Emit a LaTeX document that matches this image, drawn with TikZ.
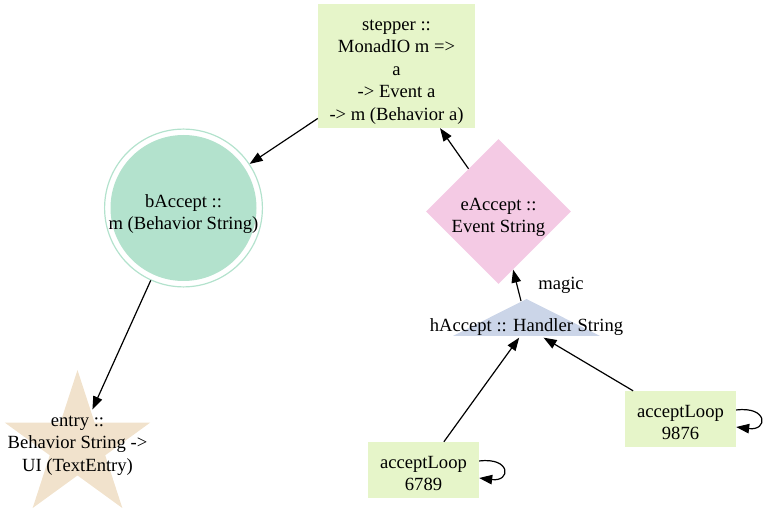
\documentclass[tikz,border=0pt]{standalone}
\usepackage{fontspec}
\setmainfont{Liberation Serif}
\usetikzlibrary{shapes.geometric,arrows.meta,calc}
\definecolor{pA}{HTML}{B3E2CD}
\definecolor{pC}{HTML}{CBD5E8}
\definecolor{pD}{HTML}{F4CAE4}
\definecolor{pE}{HTML}{E6F5C9}
\definecolor{pG}{HTML}{F1E2CC}
% raise the first line's box height so the block sits lower, as graphviz places text
\newcommand\dnline[2]{\raisebox{0pt}[\dimexpr\height+#1\relax]{#2}}
\tikzset{
  every node/.style={font=\fontsize{18.6}{22.6}\selectfont, align=center, inner sep=0pt},
  arr/.style={line width=1.2pt, -{Triangle[length=13pt,width=9.5pt]}},
  boxnode/.style={rectangle, fill=pE},
}
\begin{document}
\begin{tikzpicture}[x=1pt,y=-1pt]
\useasboundingbox (0,0) rectangle (764,513);
% shapes drawn directly
\fill[pA] (183.5,208) circle[radius=73pt];
\fill[pG] (77.5,370.0) -- (60.37,422.72) -- (4.93,422.72) -- (49.78,455.31) -- (32.65,508.03)
  -- (77.5,475.45) -- (122.35,508.03) -- (105.22,455.31) -- (150.07,422.72) -- (94.63,422.72) -- cycle;
\fill[pC] (453,336) -- (526.5,299) -- (600,336) -- cycle;
% nodes
\node[boxnode, minimum width=157pt, minimum height=124pt] (st) at (396.5,66)
  {\dnline{12pt}{stepper ::}\\MonadIO m =>\\a\\-> Event a\\-> m (Behavior a)};
\node[circle, minimum size=155pt, draw=pA, line width=1.2pt] (bA) at (183.5,208)
  {\dnline{12pt}{bAccept ::}\\m (Behavior String)};
\node[diamond, aspect=1, minimum size=145pt, fill=pD] (eA) at (498.5,211.5)
  {\dnline{12pt}{eAccept ::}\\Event String};
\node[inner sep=1.5pt] (hA) at (526.5,327.5) {hAccept :: Handler String};
\coordinate (hAtop) at (521,301);
\node[inner sep=0pt] (en) at (77.5,442.5) {\dnline{6pt}{entry ::}\\Behavior String ->\\UI (TextEntry)};
\node[boxnode, minimum width=111pt, minimum height=56pt] (l1) at (423.5,470) {\dnline{7pt}{acceptLoop}\\6789};
\node[boxnode, minimum width=111pt, minimum height=56pt] (l2) at (680.5,419) {\dnline{7pt}{acceptLoop}\\9876};
\node (mg) at (561,285) {magic};
% edges
\draw[arr] (st) -- (bA);
\draw[arr] (bA) -- (en);
\draw[arr] (eA) -- (st);
\draw[arr] (hAtop) -- (eA);
\draw[arr] (l1) -- (hA);
\draw[arr] (l2) -- (hA);
\draw[arr] ($(l1.east)+(0,-9)$) .. controls +(32,-4) and +(32,4) .. ($(l1.east)+(0,8)$);
\draw[arr] ($(l2.east)+(0,-9)$) .. controls +(32,-4) and +(32,4) .. ($(l2.east)+(0,8)$);
\end{tikzpicture}
\end{document}
